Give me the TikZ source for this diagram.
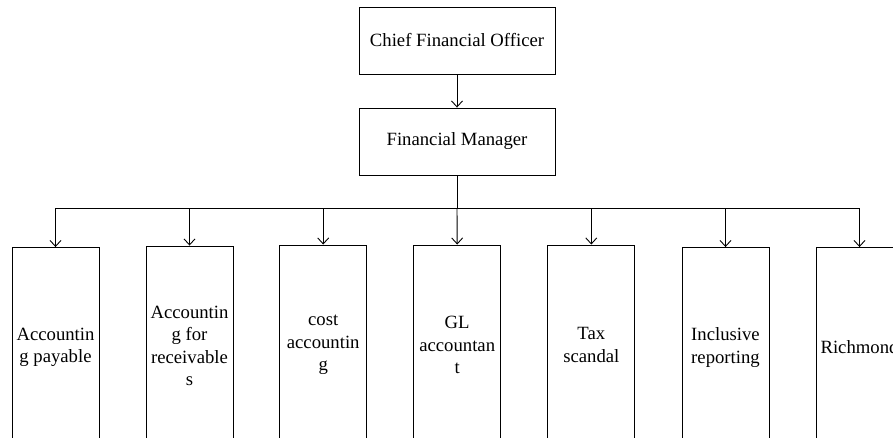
\documentclass[tikz,border=0pt]{standalone}
\usepackage{fontspec}
\setmainfont{Liberation Serif}
\usetikzlibrary{arrows.meta}
\begin{document}
\begin{tikzpicture}[x=1pt,y=-1pt,
  every node/.style={font=\fontsize{18.7}{22.5}\selectfont},
  topbox/.style={draw,line width=0.9pt,minimum width=196pt,minimum height=67pt,inner sep=0pt},
  unitbox/.style={draw,line width=0.9pt,minimum width=87pt,minimum height=200pt,inner sep=0pt,align=center},
  conn/.style={line width=0.9pt},
  arr/.style={conn,-{Straight Barb[length=6pt,width=11pt,line width=0.9pt]}}]
\useasboundingbox (0,0) rectangle (893,437);
\node[topbox] (cfo) at (457,40.5) {Chief Financial Officer};
\node[topbox] (fm) at (457,141.5) {Financial Manager};
\node[unitbox] (u1) at (55.5,347.5) {Accountin\\g payable};
\node[unitbox] (u2) at (189.5,346) {Accountin\\g for\\receivable\\s};
\node[unitbox] (u3) at (323.2,345) {cost\\accountin\\g};
\node[unitbox] (u4) at (457.2,345) {GL\\accountan\\t};
\node[unitbox] (u5) at (591.3,345) {Tax\\scandal};
\node[unitbox] (u6) at (725.5,347.5) {Inclusive\\reporting};
\node[unitbox] (u7) at (859.5,347.5) {Richmond};
\draw[arr] (cfo) -- (fm);
\coordinate (bus) at (457,208);
\coordinate (b1) at (55.5,208);
\coordinate (b2) at (189.5,208);
\coordinate (b3) at (323.2,208);
\coordinate (b5) at (591.3,208);
\coordinate (b6) at (725.5,208);
\coordinate (b7) at (859.5,208);
\draw[conn] (fm.south) -- (bus);
\draw[conn] (b1) -- (b7);
\draw[arr] (b1) -- (u1.north);
\draw[arr] (b2) -- (u2.north);
\draw[arr] (b3) -- (u3.north);
\draw[arr] (bus) -- (u4.north);
\draw[arr] (b5) -- (u5.north);
\draw[arr] (b6) -- (u6.north);
\draw[arr] (b7) -- (u7.north);
\end{tikzpicture}
\end{document}
